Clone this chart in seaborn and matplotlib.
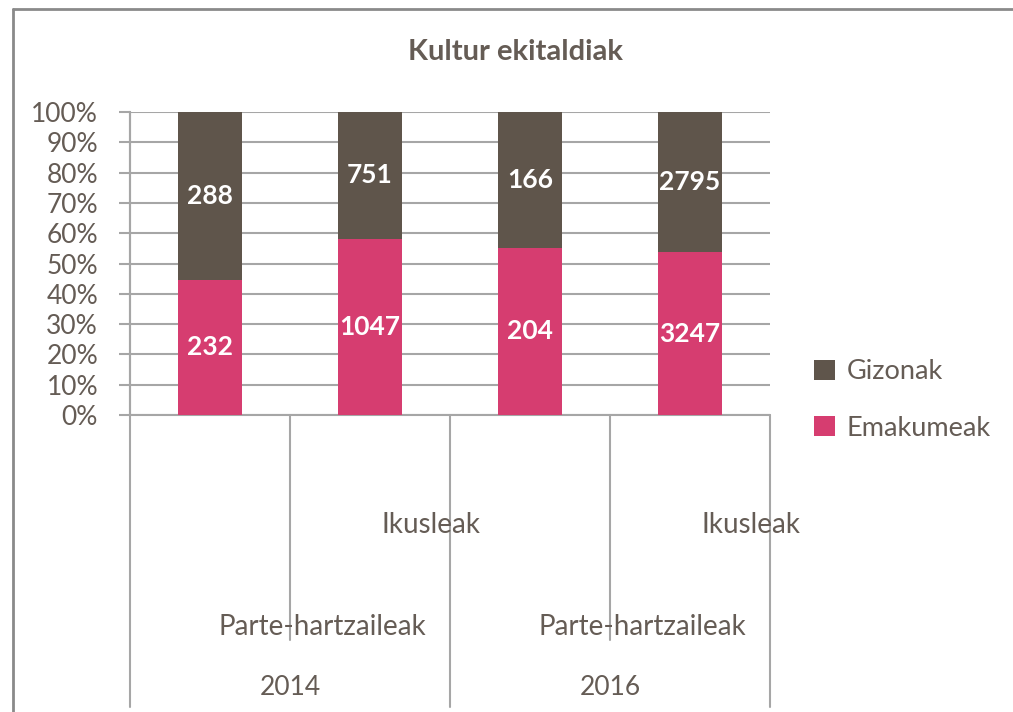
import matplotlib
matplotlib.use("Agg")
import matplotlib.pyplot as plt
import seaborn as sns
import numpy as np
import pandas as pd
from matplotlib.lines import Line2D
from matplotlib.patches import Patch

# ---- data ----
roles = ["Parte-hartzaileak", "Ikusleak", "Parte-hartzaileak", "Ikusleak"]
years = ["2014", "2016"]
emakumeak = [232, 1047, 204, 3247]
gizonak = [288, 751, 166, 2795]
y_ticks = [0, 10, 20, 30, 40, 50, 60, 70, 80, 90, 100]
title = "Kultur ekitaldiak"

c_giz = "#5f554b"
c_ema = "#d63d70"
c_text = "#655c55"
c_grid = "#a6a6a6"

sns.set_theme(style="white")
plt.rcParams["font.family"] = ["Lato", "DejaVu Sans"]

em = np.array(emakumeak, float)
gz = np.array(gizonak, float)
tot = em + gz
pct_em = em / tot * 100
df = pd.DataFrame({"pos": [f"c{i}" for i in range(4)],
                   "tot": [100.0] * 4, "em": pct_em})

W, H = 1013, 712
fig = plt.figure(figsize=(W / 100, H / 100), dpi=100)
ax = fig.add_axes([130 / W, 1 - 415 / H, 640 / W, 303 / H])

sns.barplot(data=df, x="pos", y="tot", color=c_giz, width=0.4,
            saturation=1, ax=ax, zorder=3)
sns.barplot(data=df, x="pos", y="em", color=c_ema, width=0.4,
            saturation=1, ax=ax, zorder=3)
for p in ax.patches:
    p.set_edgecolor("none")
ax.set_xlim(-0.5, 3.5)
ax.set_ylim(0, 100)
ax.set_xlabel("")
ax.set_ylabel("")
ax.set_xticks([])
ax.set_yticks(y_ticks)
ax.set_yticklabels([f"{t}%" for t in y_ticks])
ax.tick_params(axis="y", left=True, length=8, width=1.5, color=c_grid,
               pad=15, labelsize=19, labelcolor=c_text)
ax.grid(axis="y", color=c_grid, linewidth=1.5, zorder=0)
ax.set_axisbelow(True)
for s in ["top", "right", "bottom"]:
    ax.spines[s].set_visible(False)
ax.spines["left"].set_color(c_grid)
ax.spines["left"].set_linewidth(1.5)

# value labels
for i in range(4):
    ax.text(i, pct_em[i] / 2, f"{emakumeak[i]}", ha="center", va="center",
            color="white", fontsize=19, fontweight="bold", zorder=5)
    ax.text(i, (pct_em[i] + 100) / 2, f"{gizonak[i]}", ha="center",
            va="center", color="white", fontsize=19, fontweight="bold",
            zorder=5)

# multi-level category axis
tr = ax.get_xaxis_transform()
for x, ybot in [(-0.5, -0.965), (0.5, -0.743), (1.5, -0.965),
                (2.5, -0.743), (3.5, -0.965)]:
    ax.plot([x, x], [0, ybot], transform=tr, color=c_grid, lw=1.5,
            clip_on=False, zorder=1)
ax.plot([-0.5, -0.5], [0, 1], transform=tr, color=c_grid, lw=1.5,
        clip_on=False, zorder=1)
ax.plot([-0.5, 3.5], [0, 0], transform=tr, color=c_grid, lw=1.5,
        clip_on=False, zorder=2)

for i, r in enumerate(roles):
    if r == "Ikusleak":
        ax.text(i + 0.38, -0.363, r, transform=tr, ha="center", va="center",
                fontsize=20, color=c_text)
    else:
        ax.text(i + 0.7, -0.70, r, transform=tr, ha="center", va="center",
                fontsize=20, color=c_text)
for j, yname in enumerate(years):
    ax.text(2 * j + 0.5, -0.9, yname, transform=tr, ha="center",
            va="center", fontsize=19, color=c_text)

# title
fig.text(515 / W, 1 - 52 / H, title, ha="center", va="center",
         fontsize=21, fontweight="bold", color=c_text)

# legend
handles = [Patch(facecolor=c_giz, edgecolor="none", label="Gizonak"),
           Patch(facecolor=c_ema, edgecolor="none", label="Emakumeak")]
leg = fig.legend(handles=handles, loc="center left",
                 bbox_to_anchor=(790 / W, 1 - 400 / H), frameon=False,
                 fontsize=19.5, labelcolor=c_text, handlelength=0.75,
                 handleheight=0.75, handletextpad=0.45, labelspacing=1.15)

# frame
fig.add_artist(Line2D([13 / W, 13 / W], [0, 1 - 9 / H], color="#8a8a8a",
                      lw=2, transform=fig.transFigure))
fig.add_artist(Line2D([13 / W, 1], [1 - 9 / H, 1 - 9 / H], color="#8a8a8a",
                      lw=2, transform=fig.transFigure))

fig.savefig("out.png", dpi=100)
